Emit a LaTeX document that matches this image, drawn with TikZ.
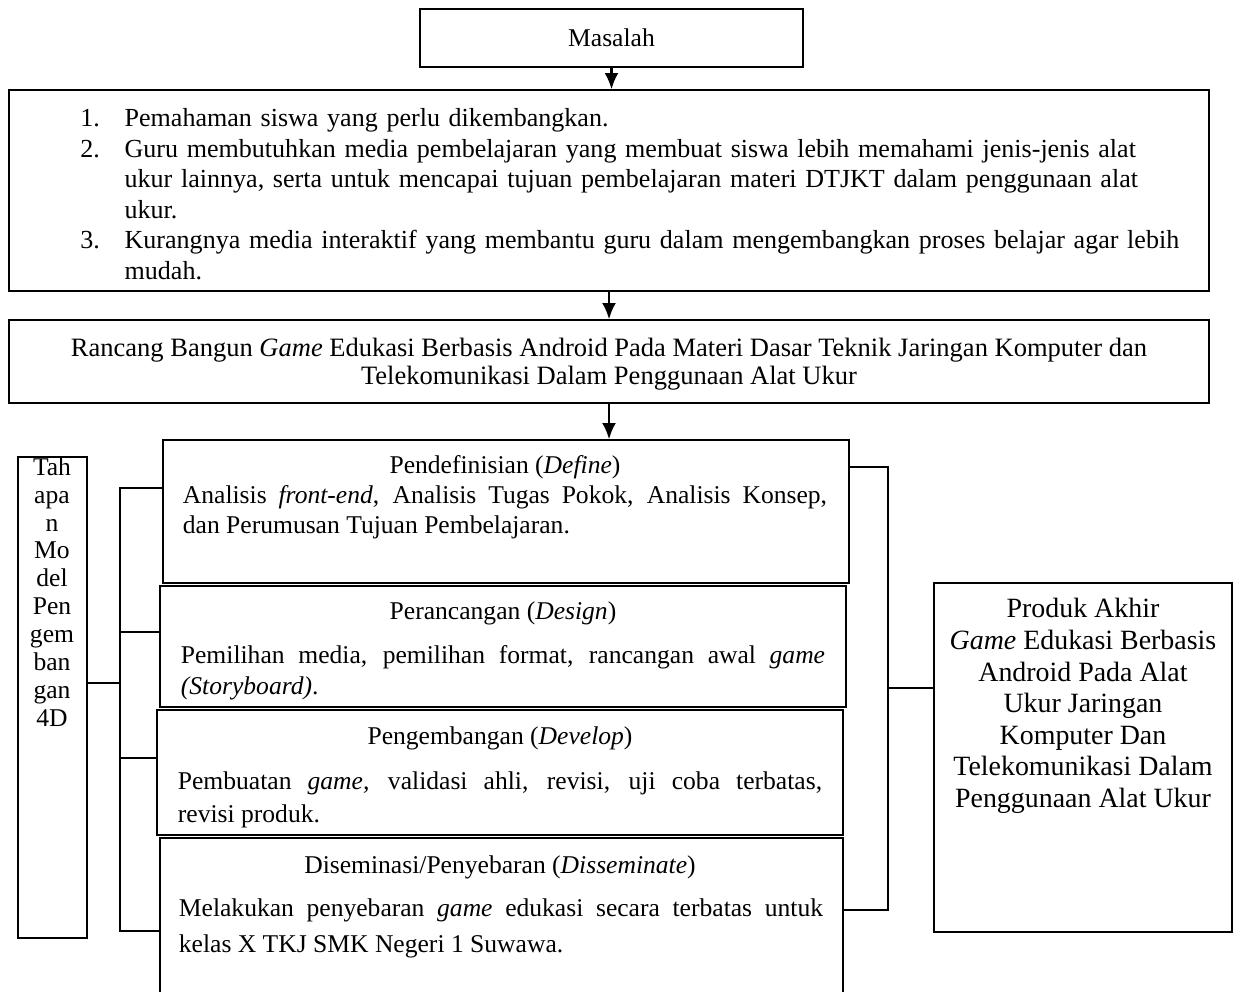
\documentclass[tikz,border=0pt]{standalone}
\usepackage{fontspec}
\setmainfont{Liberation Serif}
\usetikzlibrary{arrows.meta,fit}
\newlength{\nomw}
\setlength{\nomw}{19pt}

\begin{document}
\begin{tikzpicture}[x=0.43pt,y=-0.43pt,font=\fontsize{11}{12.2}\selectfont,
    kotak/.style={draw,line width=0.6pt,inner sep=0pt},
    garis/.style={line width=1pt},
    panah/.style={line width=1pt,-{Latex[length=7pt,width=6pt]}},
    isi/.style={text width=277pt,align=justify,inner sep=0pt}]
        \useasboundingbox (0,0) rectangle (1234,992);
        % alur atas
        \node[kotak,fit={(420,9) (803,67)}] (masalah) {};
        \node[kotak,fit={(9,90) (1209,291)}] (daftar) {};
        \node[kotak,fit={(9,320) (1209,403)}] (judul) {};
        \node at (masalah.center) {Masalah};
        \node[anchor=west,text width=500pt,align=left,inner sep=0pt,
              font=\fontsize{11.2}{13.1}\selectfont] at (80,194)
          {\makebox[\nomw][l]{1.}Pemahaman siswa yang perlu dikembangkan.\\
           \makebox[\nomw][l]{2.}Guru membutuhkan media pembelajaran yang membuat siswa lebih memahami jenis-jenis alat\\
           \hspace*{\nomw}ukur lainnya, serta untuk mencapai tujuan pembelajaran materi DTJKT dalam penggunaan alat\\
           \hspace*{\nomw}ukur.\\
           \makebox[\nomw][l]{3.}Kurangnya media interaktif yang membantu guru dalam mengembangkan proses belajar agar lebih\\
           \hspace*{\nomw}mudah.};
        \node[align=center,font=\fontsize{11.4}{12}\selectfont] at (609,364)
          {Rancang Bangun \textit{Game} Edukasi Berbasis Android Pada Materi Dasar Teknik Jaringan Komputer dan\\
           Telekomunikasi Dalam Penggunaan Alat Ukur};
        % tahapan 4D
        \node[kotak,fit={(163,440) (849,583)}] (define) {};
        \node[kotak,fit={(160,586) (846,707)}] (design) {};
        \node[kotak,fit={(157,710) (843,835)}] (develop) {};
        \node[kotak,fit={(160,838) (843,1000)}] (dissem) {};
        \node at (505,467) {Pendefinisian (\textit{Define})};
        \node[isi,font=\fontsize{11}{13.1}\selectfont] at (505,512)
          {Analisis \textit{front-end}, Analisis Tugas Pokok, Analisis Konsep,\linebreak
           dan Perumusan Tujuan Pembelajaran.};
        \node at (503,613) {Perancangan (\textit{Design})};
        \node[isi,font=\fontsize{11}{13.3}\selectfont] at (503,673)
          {Pemilihan media, pemilihan format, rancangan awal \textit{game}\linebreak
           \textit{(Storyboard)}.};
        \node at (500,738) {Pengembangan (\textit{Develop})};
        \node[isi,font=\fontsize{11}{14.2}\selectfont] at (500,800)
          {Pembuatan \textit{game,} validasi ahli, revisi, uji coba terbatas,\linebreak
           revisi produk.};
        \node at (500,867) {Diseminasi/Penyebaran (\textit{Disseminate})};
        \node[isi,font=\fontsize{11}{15.5}\selectfont] at (501,928)
          {Melakukan penyebaran \textit{game} edukasi secara terbatas untuk\linebreak
           kelas X TKJ SMK Negeri 1 Suwawa.};
        \node[kotak,fit={(18,457) (87,938)}] (tahapan) {};
        \node[align=center,inner sep=0pt,font=\fontsize{11}{12}\selectfont] at (52,592)
          {Tah\\apa\\n\\Mo\\del\\Pen\\gem\\ban\\gan\\4D};
        \node[kotak,fit={(934,583) (1232,932)}] (produk) {};
        \node[align=center,inner sep=0pt,font=\fontsize{12}{13.6}\selectfont] at (1083,706)
          {Produk Akhir\\\textit{Game} Edukasi Berbasis\\Android Pada Alat\\Ukur Jaringan\\
           Komputer Dan\\Telekomunikasi Dalam\\Penggunaan Alat Ukur};
        % panah
        \draw[panah] (masalah.south) -- (masalah.south |- daftar.north);
        \draw[panah] (daftar.south) -- (judul.north);
        \draw[panah] (judul.south) -- (judul.south |- define.north);
        % kurung kiri
        \coordinate (kiriA) at (120,488);
        \coordinate (kiriB) at (120,931);
        \draw[garis] (kiriA -| define.west) -- (kiriA) -- (kiriB) -- (kiriB -| dissem.west);
        \draw[garis] (120,632) -- (120,632 -| design.west);
        \draw[garis] (120,758) -- (120,758 -| develop.west);
        \draw[garis] (tahapan.east |- 0,683) -- (120,683);
        % kurung kanan
        \coordinate (kananA) at (888,467);
        \coordinate (kananB) at (888,910);
        \draw[garis] (kananA -| define.east) -- (kananA) -- (kananB) -- (kananB -| dissem.east);
        \draw[garis] (888,688) -- (888,688 -| produk.west);
      \end{tikzpicture}
\end{document}
